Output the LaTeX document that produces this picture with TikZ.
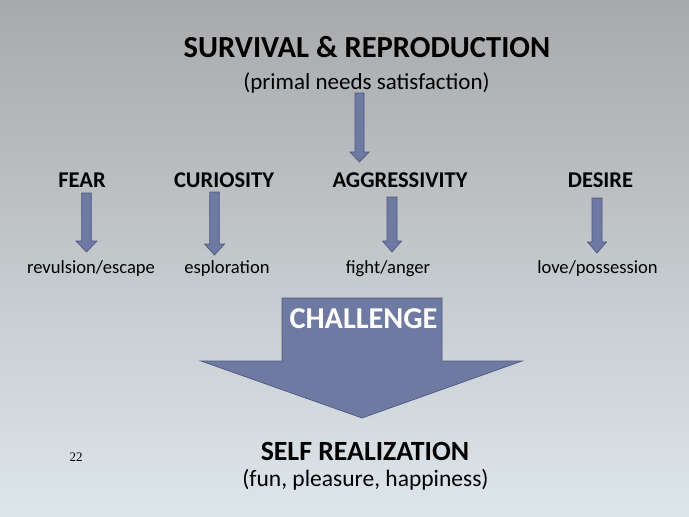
\documentclass[tikz,border=0pt]{standalone}
\usepackage{fontspec}
\setmainfont{Carlito}
\newfontfamily\numfont{Liberation Serif}
\definecolor{bgtop}{RGB}{168,169,171}
\definecolor{bgmid}{RGB}{201,206,208}
\definecolor{bgbot}{RGB}{221,230,235}
\definecolor{arrowfill}{RGB}{111,122,163}
\definecolor{arrowedge}{RGB}{78,88,128}
\tikzset{
  blk/.style={fill=arrowfill, draw=arrowedge, line width=0.7pt, line join=miter},
  txt/.style={anchor=base, inner sep=0pt, text=black},
  pics/downarrow/.style n args={4}{code={
    \path[blk] (-#2,0) -- (#2,0) -- (#2,#1-#4) -- (#3,#1-#4) -- (0,#1)
      -- (-#3,#1-#4) -- (-#2,#1-#4) -- cycle;
  }}
}
\begin{document}
\begin{tikzpicture}[x=1pt,y=-1pt]
\useasboundingbox (0,0) rectangle (689,517);
\shade[top color=bgtop, middle color=bgmid, bottom color=bgbot] (0,0) rectangle (689,517);

% titles
\node[txt, font=\fontsize{30.6}{32}\selectfont\bfseries] (surv) at (367,57) {SURVIVAL \& REPRODUCTION};
\node[txt, font=\fontsize{23}{25}\selectfont] (primal) at (366.5,89) {(primal needs satisfaction)};

% emotions
\tikzset{emo/.style={txt, font=\fontsize{22.5}{24}\selectfont\bfseries}}
\node[emo] (fear) at (82,187) {FEAR};
\node[emo] (cur) at (224,187) {CURIOSITY};
\node[emo] (agg) at (400,187) {AGGRESSIVITY};
\node[emo] (des) at (600.5,187) {DESIRE};

% reactions
\tikzset{react/.style={txt, font=\fontsize{18.6}{20}\selectfont}}
\node[react] (rev) at (91,273) {revulsion/escape};
\node[react] (esp) at (227,273) {esploration};
\node[react] (fight) at (388,273) {fight/anger};
\node[react] (love) at (597.5,273) {love/possession};

% small arrows
\coordinate (a0) at (359.5,93);
\coordinate (a1) at (86.5,193);
\coordinate (a2) at (214.5,192);
\coordinate (a3) at (392,197);
\coordinate (a4) at (597,198);
\pic at (a0) {downarrow={69}{4.5}{9.5}{10}};
\pic at (a1) {downarrow={59}{4.8}{10.5}{11}};
\pic at (a2) {downarrow={63}{4.8}{10}{11}};
\pic at (a3) {downarrow={55}{5}{9.5}{11}};
\pic at (a4) {downarrow={55}{5}{9.5}{11}};

% big arrow
\path[blk] (282,298) -- (442,298) -- (442,361) -- (522,361) -- (362,418)
  -- (201,361) -- (282,361) -- cycle;
\node[txt, text=white, font=\fontsize{30.3}{32}\selectfont\bfseries] (chal) at (363.5,328) {CHALLENGE};

% result
\node[txt, font=\fontsize{27.8}{29}\selectfont\bfseries] (self) at (365,460) {SELF REALIZATION};
\node[txt, font=\fontsize{23.5}{25}\selectfont] (fun) at (365.5,486) {(fun, pleasure, happiness)};
\node[txt, font=\fontsize{13}{14}\selectfont\numfont] (num) at (76,461) {22};
\end{tikzpicture}
\end{document}
